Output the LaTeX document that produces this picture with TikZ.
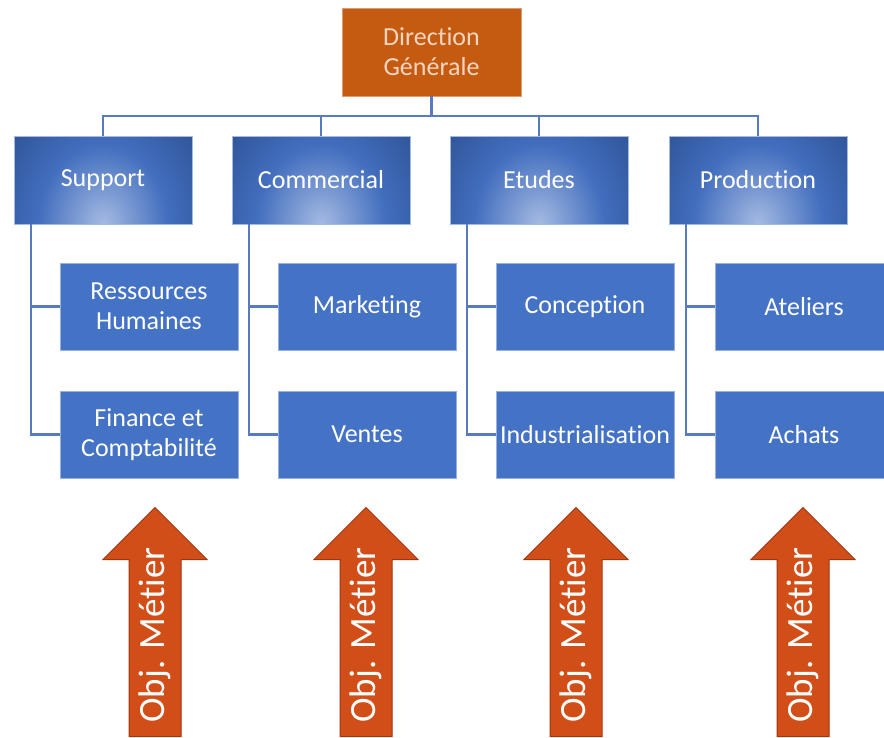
\documentclass[tikz,border=0pt]{standalone}
\usepackage{fontspec}
\setmainfont[Ligatures=NoCommon]{Carlito}
\usetikzlibrary{shapes,arrows,positioning}

\definecolor{dgorange}{RGB}{197,90,17}
\definecolor{dgtext}{RGB}{246,214,194}
\definecolor{deptdark}{RGB}{42,76,138}
\definecolor{deptmid}{RGB}{66,110,190}
\definecolor{deptlight}{RGB}{165,186,226}
\definecolor{unitblue}{RGB}{68,114,196}
\definecolor{linkblue}{RGB}{88,122,192}
\definecolor{arrowfill}{RGB}{210,78,24}
\definecolor{arrowdraw}{RGB}{158,54,14}
\pgfdeclareradialshading{deptglow}{\pgfpoint{0bp}{0bp}}{color(0bp)=(deptlight); color(12bp)=(deptmid); color(25bp)=(deptdark); color(50bp)=(deptdark)}

\begin{document}
\begin{tikzpicture}[x=1pt,y=-1pt,
dgbox/.style={rectangle, fill=dgorange, draw=dgorange!60!white, line width=0.6pt, minimum width=179pt, minimum height=88pt, inner sep=0pt, text=dgtext, align=center, font=\fontsize{26}{30}\selectfont},
deptbox/.style={rectangle, fill=deptdark, draw=deptlight, line width=0.6pt, minimum width=178pt, minimum height=88pt, inner sep=0pt, text=white, font=\fontsize{26}{30}\selectfont,
  path picture={\shade[shading=deptglow] (path picture bounding box.south) ellipse (135pt and 165pt);}},
unitbox/.style={rectangle, fill=unitblue, draw=unitblue!55!white, line width=0.6pt, minimum width=178pt, minimum height=87pt, inner sep=0pt, text=white, align=center, font=\fontsize{26}{30}\selectfont},
link/.style={draw=linkblue, line width=2.2pt},
objarrow/.style={single arrow, fill=arrowfill, draw=arrowdraw, line width=1pt, rotate=90, single arrow head extend=26pt, minimum height=229pt, text height=27pt, text depth=8pt, inner xsep=0pt, inner ysep=8pt, text=white, font=\fontsize{37}{44}\selectfont},
]

\useasboundingbox (0,0) rectangle (884,737);

% top of the chart
\node at (431.5,52) [dgbox](dg){Direction\\Générale};
\coordinate (bar) at (431.5,116);

\node at (103,180) [deptbox](sup){Support};
\node at (321,180) [deptbox](com){Commercial};
\node at (539,180) [deptbox](etu){Etudes};
\node at (758,180) [deptbox](prod){Production};

\draw[link] (dg.south) -- (bar);
\draw[link] (bar) -| (sup.north);
\draw[link] (bar) -| (com.north);
\draw[link] (bar) -| (etu.north);
\draw[link] (bar) -| (prod.north);

% units below each department
\node at (149,306.5) [unitbox](rh){Ressources\\Humaines};
\node at (149,434.5) [unitbox](fin){Finance et\\Comptabilité};
\draw[link] ([xshift=17pt]sup.south west) |- (rh.west);
\draw[link] ([xshift=17pt]sup.south west) |- (fin.west);

\node at (367,306.5) [unitbox](mkt){Marketing};
\node at (367,434.5) [unitbox](ven){Ventes};
\draw[link] ([xshift=17pt]com.south west) |- (mkt.west);
\draw[link] ([xshift=17pt]com.south west) |- (ven.west);

\node at (585,306.5) [unitbox](conc){Conception};
\node at (585,434.5) [unitbox](indus){Industrialisation};
\draw[link] ([xshift=17pt]etu.south west) |- (conc.west);
\draw[link] ([xshift=17pt]etu.south west) |- (indus.west);

\node at (804,306.5) [unitbox](atel){Ateliers};
\node at (804,434.5) [unitbox](ach){Achats};
\draw[link] ([xshift=17pt]prod.south west) |- (atel.west);
\draw[link] ([xshift=17pt]prod.south west) |- (ach.west);

% business objects
\node at (155,737) [objarrow, anchor=tail](objsup){Obj. Métier};
\node at (366,737) [objarrow, anchor=tail](objcom){Obj. Métier};
\node at (576,737) [objarrow, anchor=tail](objetu){Obj. Métier};
\node at (803,737) [objarrow, anchor=tail](objprod){Obj. Métier};

\end{tikzpicture}
\end{document}
